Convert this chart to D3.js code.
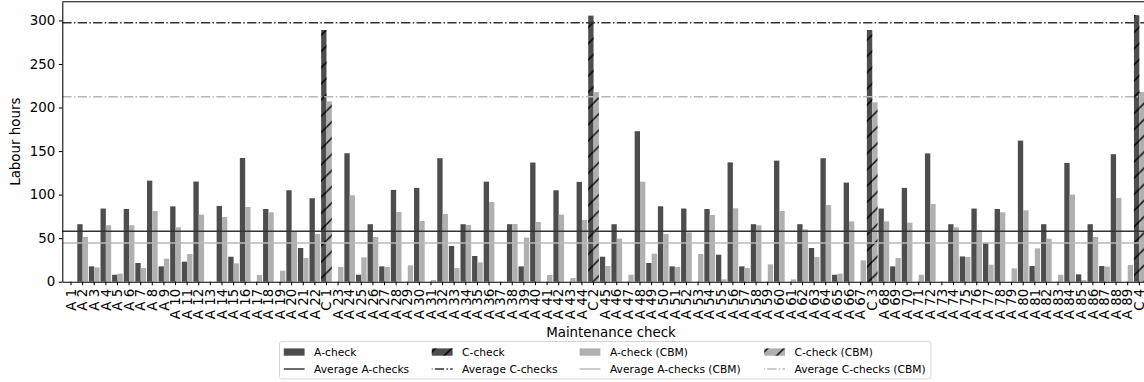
<!DOCTYPE html>
<html>
<head>
<meta charset="utf-8">
<script src="https://cdn.jsdelivr.net/npm/d3@7"></script>
<style>
  body { margin: 0; background: #fff; }
  svg { display: block; font-family: "DejaVu Sans", sans-serif; }
</style>
</head>
<body>
<div id="chart"></div>
<script>
// check names on the x axis
const categories = [
  "A 1", "A 2", "A 3", "A 4", "A 5", "A 6", "A 7", "A 8", "A 9", "A 10",
  "A 11", "A 12", "A 13", "A 14", "A 15", "A 16", "A 17", "A 18", "A 19", "A 20",
  "A 21", "A 22", "C 1",
  "A 23", "A 24", "A 25", "A 26", "A 27", "A 28", "A 29", "A 30", "A 31", "A 32",
  "A 33", "A 34", "A 35", "A 36", "A 37", "A 38", "A 39", "A 40", "A 41", "A 42",
  "A 43", "A 44", "C 2",
  "A 45", "A 46", "A 47", "A 48", "A 49", "A 50", "A 51", "A 52", "A 53", "A 54",
  "A 55", "A 56", "A 57", "A 58", "A 59", "A 60", "A 61", "A 62", "A 63", "A 64",
  "A 65", "A 66", "A 67", "C 3",
  "A 68", "A 69", "A 70", "A 71", "A 72", "A 73", "A 74", "A 75", "A 76", "A 77",
  "A 78", "A 79", "A 80", "A 81", "A 82", "A 83", "A 84", "A 85", "A 86", "A 87",
  "A 88", "A 89", "C 4"
];

// labour hours, current maintenance
const hours = [
  0, 66, 17.6, 84, 8, 83.5, 21.5, 116, 17.6, 86.5,
  23, 115, 0, 87, 28.7, 142, 0, 83.5, 0, 105,
  38.7, 95.8, 289,
  0, 147.5, 8, 66, 17.6, 105.4, 0, 107.7, 0, 141.8,
  41, 66, 29.5, 114.9, 0, 66, 17.6, 136.8, 0, 105,
  0, 114.6, 305.5,
  28.7, 66, 0, 172.8, 21.5, 86.6, 17.6, 84, 0, 83.5,
  31, 137, 17.6, 66, 0, 139, 0, 66, 38.7, 141.8,
  8, 113.8, 0, 289,
  84, 17.6, 107.7, 0, 147.3, 0, 66, 29, 84, 44.4,
  83.5, 0, 162, 18, 66, 0, 136.4, 8.4, 66, 18,
  146.4, 0, 306
];

// labour hours with CBM
const hoursCbm = [
  0, 51.3, 16.5, 64.8, 9.2, 64.8, 15.7, 81.2, 26.4, 62.5,
  31.8, 77, 0, 74.3, 21.1, 85.8, 7.7, 79.7, 12.6, 57.9,
  27.2, 54.8, 207,
  16.9, 99.2, 28, 51.3, 16.9, 80.1, 18.8, 69.7, 1.9, 77.8,
  15.7, 65.1, 22.2, 91.6, 0, 66.3, 50.6, 68.6, 7.7, 77,
  4.2, 70.9, 217.7,
  18, 49.4, 8, 114.9, 32.2, 54.8, 16.9, 56.7, 31.8, 76.6,
  2.7, 84.3, 15.7, 64.8, 19.9, 81.2, 2.7, 60.2, 28.4, 88.1,
  9.2, 69.3, 24.5, 206,
  69.3, 27.2, 67.8, 8, 89.3, 0, 62.5, 28.4, 59.4, 19.5,
  79.7, 15.3, 82, 38.3, 49.4, 8, 100, 1.9, 51.3, 17.2,
  96.2, 19.2, 217.7
];

// [A-checks, C-checks]
const averages = [57.9, 297.4];
const averagesCbm = [44.5, 212.3];

const yTicks = [0, 50, 100, 150, 200, 250, 300];

const legendItems = [
  { label: "A-check", kind: "bar", color: "dark", hatch: false },
  { label: "Average A-checks", kind: "line", color: "dark", dash: null },
  { label: "C-check", kind: "bar", color: "dark", hatch: true },
  { label: "Average C-checks", kind: "line", color: "dark", dash: "dashdot" },
  { label: "A-check (CBM)", kind: "bar", color: "light", hatch: false },
  { label: "Average A-checks (CBM)", kind: "line", color: "light", dash: null },
  { label: "C-check (CBM)", kind: "bar", color: "light", hatch: true },
  { label: "Average C-checks (CBM)", kind: "line", color: "light", dash: "dashdot" }
];

let width = 1144,
  height = 382;

let plotLeft = 62.3, plotTop = 1.7, plotBottom = 281.7;

let barColor = { dark: "#4d4d4d", light: "#b0b0b0" };
let lineColor = { dark: "#333333", light: "#b8b8b8" };
let dashdot = "9.3,2.3,1.5,2.3";

let svg = d3.select("#chart").append("svg")
  .attr("width", width)
  .attr("height", height);

// hatch pattern for the C-checks
let hs = 16.2;
svg.append("defs").append("pattern")
  .attr("id", "hatch")
  .attr("patternUnits", "userSpaceOnUse")
  .attr("width", hs)
  .attr("height", hs)
  .append("path")
  .attr("d", `M0,${hs} L${hs},0 M${-hs / 2},${hs / 2} L${hs / 2},${-hs / 2} M${hs / 2},${hs * 1.5} L${hs * 1.5},${hs / 2}`)
  .attr("stroke", "#000")
  .attr("stroke-width", 1.4);

let x = d3.scaleBand()
  .domain(categories)
  .range([plotLeft, plotLeft + 93.5 * 11.612])
  .paddingInner(0)
  .paddingOuter(0.25);

let y = d3.scaleLinear()
  .domain([0, 321.5])
  .range([plotBottom, plotTop]);

let step = x.step();
let bw = step * 0.46;
let isC = (c) => c.startsWith("C");

let rows = categories.map((c, i) => ({ cat: c, h: hours[i], hc: hoursCbm[i] }));

let bars = svg.append("g");

bars.selectAll("rect.cur")
  .data(rows)
  .enter()
  .append("rect")
  .attr("class", "cur")
  .attr("x", d => x(d.cat) + step / 2 - bw)
  .attr("y", d => y(d.h))
  .attr("width", bw)
  .attr("height", d => y(0) - y(d.h))
  .attr("fill", barColor.dark);

bars.selectAll("rect.cbm")
  .data(rows)
  .enter()
  .append("rect")
  .attr("class", "cbm")
  .attr("x", d => x(d.cat) + step / 2)
  .attr("y", d => y(d.hc))
  .attr("width", bw)
  .attr("height", d => y(0) - y(d.hc))
  .attr("fill", barColor.light);

// hatch overlay on C-check bars
let cRows = rows.filter(d => isC(d.cat));
bars.selectAll("rect.hcur")
  .data(cRows)
  .enter()
  .append("rect")
  .attr("class", "hcur")
  .attr("x", d => x(d.cat) + step / 2 - bw)
  .attr("y", d => y(d.h))
  .attr("width", bw)
  .attr("height", d => y(0) - y(d.h))
  .attr("fill", "url(#hatch)");

bars.selectAll("rect.hcbm")
  .data(cRows)
  .enter()
  .append("rect")
  .attr("class", "hcbm")
  .attr("x", d => x(d.cat) + step / 2)
  .attr("y", d => y(d.hc))
  .attr("width", bw)
  .attr("height", d => y(0) - y(d.hc))
  .attr("fill", "url(#hatch)");

// average lines
let avgLines = [
  { v: averages[0], color: lineColor.dark, dash: null },
  { v: averages[1], color: lineColor.dark, dash: dashdot },
  { v: averagesCbm[0], color: lineColor.light, dash: null },
  { v: averagesCbm[1], color: lineColor.light, dash: dashdot }
];

svg.append("g")
  .selectAll("line")
  .data(avgLines)
  .enter()
  .append("line")
  .attr("x1", plotLeft)
  .attr("x2", width)
  .attr("y1", d => y(d.v))
  .attr("y2", d => y(d.v))
  .attr("stroke", d => d.color)
  .attr("stroke-width", 1.45)
  .attr("stroke-dasharray", d => d.dash);

// axes
let yAxis = svg.append("g")
  .attr("transform", `translate(${plotLeft},0)`)
  .call(d3.axisLeft(y).tickValues(yTicks).tickSize(3.5).tickPadding(3.5).tickSizeOuter(0));

let xAxis = svg.append("g")
  .attr("transform", `translate(0,${plotBottom})`)
  .call(d3.axisBottom(x).tickSize(3.5).tickSizeOuter(0));

xAxis.selectAll("text")
  .attr("transform", "rotate(-90)")
  .attr("x", -7)
  .attr("y", 0)
  .attr("dy", "0.35em")
  .attr("text-anchor", "end");

[xAxis, yAxis].forEach(a => {
  a.selectAll("text")
    .attr("font-size", "13.4px")
    .attr("font-family", "DejaVu Sans")
    .attr("fill", "#000");
  a.selectAll("line").attr("stroke", "#000").attr("stroke-width", 1.05);
  a.select(".domain").attr("stroke", "#000").attr("stroke-width", 1.05);
});

// top spine
svg.append("line")
  .attr("x1", plotLeft)
  .attr("x2", width)
  .attr("y1", plotTop)
  .attr("y2", plotTop)
  .attr("stroke", "#000")
  .attr("stroke-width", 1.05);

// axis titles
svg.append("text")
  .attr("transform", `translate(20,${(plotTop + plotBottom) / 2}) rotate(-90)`)
  .attr("text-anchor", "middle")
  .attr("font-size", "13.4px")
  .text("Labour hours");

svg.append("text")
  .attr("x", 611)
  .attr("y", 337)
  .attr("text-anchor", "middle")
  .attr("font-size", "13.4px")
  .text("Maintenance check");

// legend
let legend = svg.append("g");

legend.append("rect")
  .attr("x", 279.5)
  .attr("y", 341.5)
  .attr("width", 651.5)
  .attr("height", 37.5)
  .attr("rx", 2.5)
  .attr("fill", "#fff")
  .attr("fill-opacity", 0.8)
  .attr("stroke", "#d5d5d5")
  .attr("stroke-width", 1);

let colX = [283.8, 431.8, 579.6, 764.2];
let rowY = [352, 369];

let item = legend.selectAll("g.item")
  .data(legendItems)
  .enter()
  .append("g")
  .attr("class", "item")
  .attr("transform", (d, i) => `translate(${colX[Math.floor(i / 2)]},${rowY[i % 2]})`);

item.filter(d => d.kind == "bar")
  .append("rect")
  .attr("x", 0)
  .attr("y", -3.6)
  .attr("width", 20.8)
  .attr("height", 7.3)
  .attr("fill", d => barColor[d.color]);

item.filter(d => d.kind == "bar" && d.hatch)
  .append("rect")
  .attr("x", 0)
  .attr("y", -3.6)
  .attr("width", 20.8)
  .attr("height", 7.3)
  .attr("fill", "url(#hatch)");

item.filter(d => d.kind == "line")
  .append("line")
  .attr("x1", 0)
  .attr("x2", 20.8)
  .attr("stroke", d => lineColor[d.color])
  .attr("stroke-width", 1.45)
  .attr("stroke-dasharray", d => d.dash ? dashdot : null)
  .attr("stroke-dashoffset", d => d.dash ? -3 : null);

item.append("text")
  .attr("x", 30.3)
  .attr("dy", "0.36em")
  .attr("font-size", "10.7px")
  .text(d => d.label);
</script>
</body>
</html>
